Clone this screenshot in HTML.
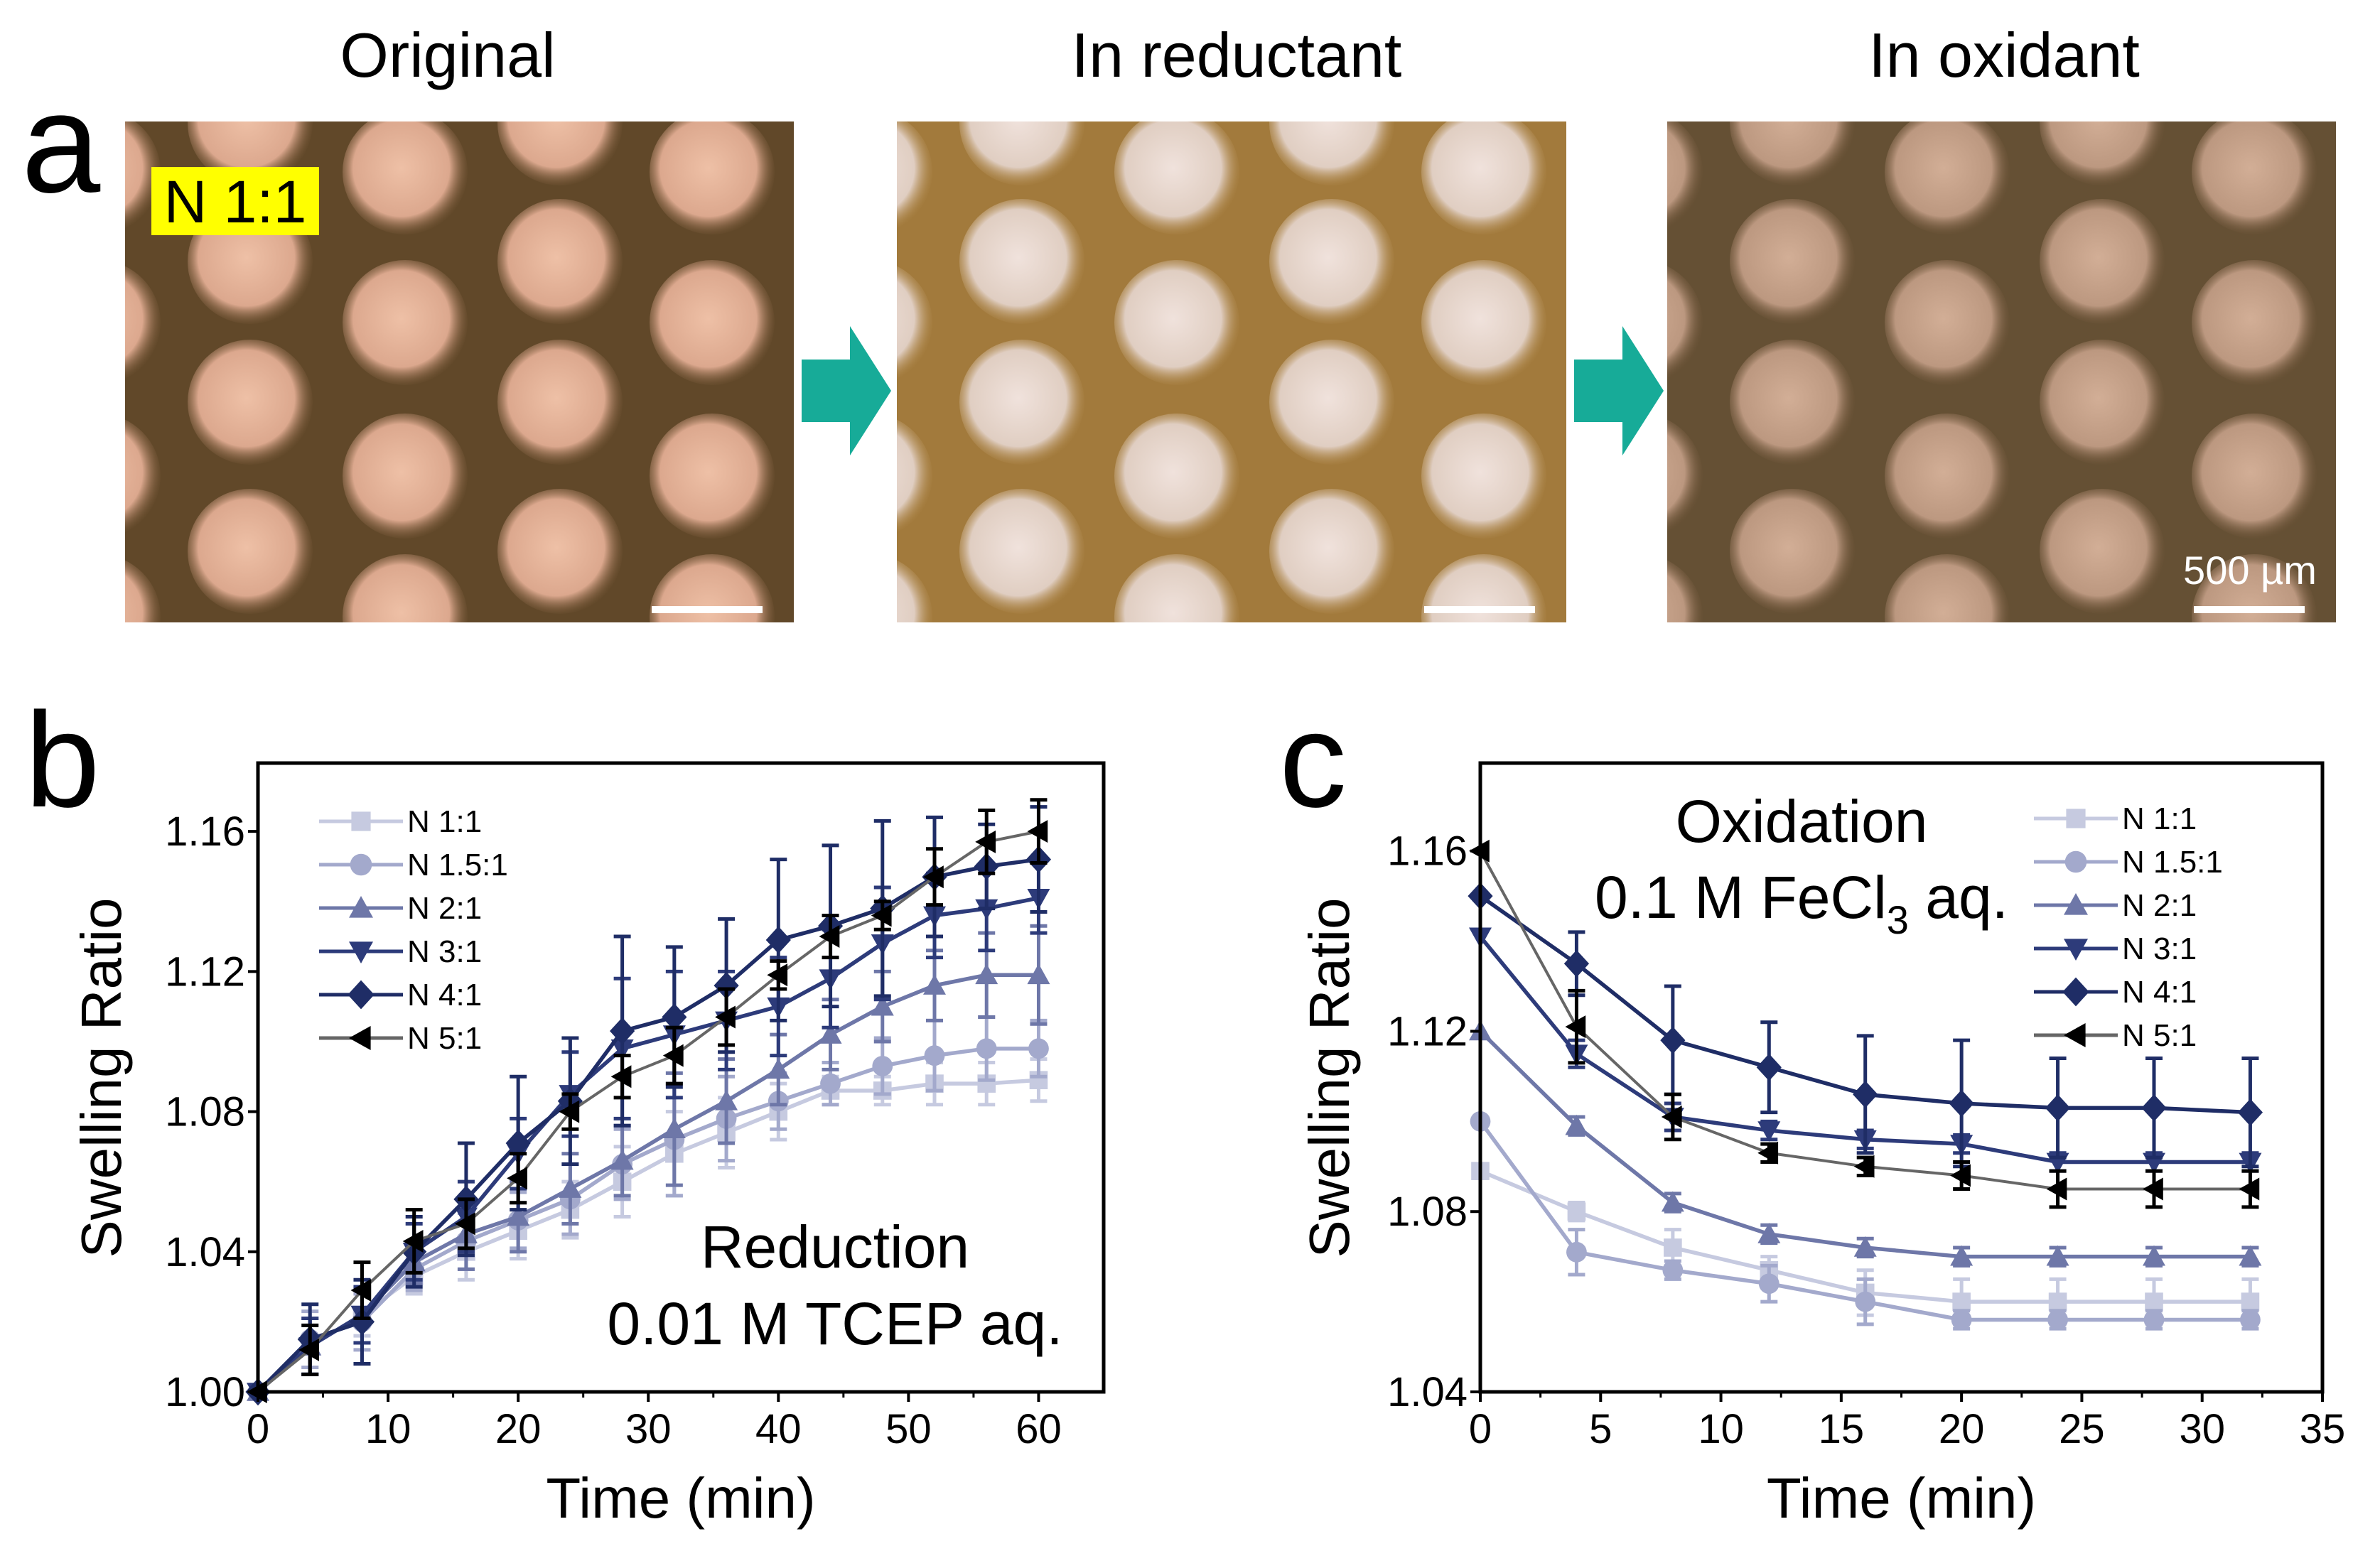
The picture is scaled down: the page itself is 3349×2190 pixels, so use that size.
<!DOCTYPE html>
<html><head><meta charset="utf-8"><style>
html,body{margin:0;padding:0;background:#fff;}
svg{display:block;font-family:"Liberation Sans",Arial,sans-serif;}
</style></head><body>
<svg id="fig" width="3349" height="2190" viewBox="0 0 3349 2190" xmlns="http://www.w3.org/2000/svg">
<defs>
<radialGradient id="c1" cx="0.47" cy="0.47" r="0.55"><stop offset="0" stop-color="#eec0a6"/><stop offset="0.7" stop-color="#dca88e"/><stop offset="1" stop-color="#7a5a3a" stop-opacity="0"/></radialGradient>
<radialGradient id="c2" cx="0.47" cy="0.47" r="0.55"><stop offset="0" stop-color="#f0e2dc"/><stop offset="0.7" stop-color="#e0cec2"/><stop offset="1" stop-color="#b08848" stop-opacity="0"/></radialGradient>
<radialGradient id="c3" cx="0.47" cy="0.47" r="0.55"><stop offset="0" stop-color="#d2ae96"/><stop offset="0.7" stop-color="#bc9880"/><stop offset="1" stop-color="#6a5034" stop-opacity="0"/></radialGradient>
</defs>
<g id="panelA"></g>
<g id="panelB"></g>
<g id="panelC"></g>
</svg>
<script>
// ---- Panel b data (reduction) ----
const timesB = [0,4,8,12,16,20,24,28,32,36,40,44,48,52,56,60];
const b11  = [1.000,1.013,1.022,1.033,1.040,1.046,1.052,1.060,1.068,1.074,1.080,1.086,1.086,1.088,1.088,1.089];
const b151 = [1.000,1.015,1.020,1.035,1.043,1.049,1.055,1.065,1.072,1.078,1.083,1.088,1.093,1.096,1.098,1.098];
const b21  = [1.000,1.013,1.022,1.037,1.045,1.050,1.058,1.066,1.075,1.083,1.092,1.102,1.110,1.116,1.119,1.119];
const b31  = [1.000,1.013,1.022,1.040,1.050,1.068,1.085,1.098,1.102,1.106,1.110,1.118,1.128,1.136,1.138,1.141];
const b41  = [1.000,1.015,1.020,1.040,1.055,1.071,1.083,1.103,1.107,1.116,1.129,1.133,1.138,1.147,1.150,1.152];
const b51  = [1.000,1.012,1.029,1.043,1.048,1.061,1.080,1.090,1.096,1.107,1.119,1.130,1.136,1.147,1.157,1.160];
const eB11  = [0,0.006,0.006,0.005,0.008,0.008,0.008,0.010,0.012,0.010,0.008,0.004,0.004,0.006,0.006,0.006];
const eB151 = [0,0.008,0.008,0.006,0.008,0.008,0.010,0.010,0.016,0.012,0.008,0.006,0.008,0.010,0.009,0.008];
const eB21  = [0,0.008,0.008,0.006,0.010,0.010,0.010,0.010,0.016,0.012,0.010,0.010,0.010,0.010,0.012,0.014];
const eB31  = [0,0.008,0.008,0.008,0.010,0.010,0.012,0.020,0.018,0.014,0.014,0.014,0.016,0.012,0.012,0.010];
const eB41  = [0,0.010,0.012,0.010,0.016,0.019,0.018,0.027,0.020,0.019,0.023,0.023,0.025,0.017,0.012,0.015];
const eB51  = [0,0.007,0.008,0.009,0.007,0.007,0.005,0.006,0.008,0.008,0.004,0.006,0.004,0.008,0.009,0.009];
const xTicksB = [0,10,20,30,40,50,60];
const yTicksB = [1.00,1.04,1.08,1.12,1.16];
// ---- Panel c data (oxidation) ----
const timesC = [0,4,8,12,16,20,24,28,32];
const c11  = [1.089,1.080,1.072,1.067,1.062,1.060,1.060,1.060,1.060];
const c151 = [1.100,1.071,1.067,1.064,1.060,1.056,1.056,1.056,1.056];
const c21  = [1.120,1.099,1.082,1.075,1.072,1.070,1.070,1.070,1.070];
const c31  = [1.141,1.115,1.101,1.098,1.096,1.095,1.091,1.091,1.091];
const c41  = [1.150,1.135,1.118,1.112,1.106,1.104,1.103,1.103,1.102];
const c51  = [1.160,1.121,1.101,1.093,1.090,1.088,1.085,1.085,1.085];
const eC11  = [0,0.002,0.004,0.003,0.005,0.005,0.005,0.005,0.005];
const eC151 = [0,0.005,0.002,0.004,0.005,0.002,0.002,0.002,0.002];
const eC21  = [0,0.002,0.002,0.002,0.002,0.002,0.002,0.002,0.002];
const eC31  = [0,0.003,0.003,0.002,0.002,0.002,0.002,0.002,0.002];
const eC41  = [0,0.007,0.012,0.010,0.013,0.014,0.011,0.011,0.012];
const eC51  = [0,0.008,0.005,0.002,0.002,0.003,0.004,0.004,0.004];
const xTicksC = [0,5,10,15,20,25,30,35];
const yTicksC = [1.04,1.08,1.12,1.16];
const seriesNames = ["N 1:1","N 1.5:1","N 2:1","N 3:1","N 4:1","N 5:1"];

const NS="http://www.w3.org/2000/svg";
function mk(parent,tag,attrs,text){const e=document.createElementNS(NS,tag);for(const k in attrs)e.setAttribute(k,attrs[k]);if(text!==undefined)e.textContent=text;parent.appendChild(e);return e;}

// ---------- Panel a ----------
const A=document.getElementById('panelA');
const lblA=mk(A,'text',{x:30,y:270,'font-size':200},'a');


const photos=[{x:176,w:941,bg:'#614829',g:'c1',title:'Original',tx:630,name:'photo-original'},
{x:1262,w:942,bg:'#a27a3c',g:'c2',title:'In reductant',tx:1740,name:'photo-in-reductant'},
{x:2346,w:941,bg:'#655034',g:'c3',title:'In oxidant',tx:2820,name:'photo-in-oxidant'}];
const colsA=[-38,176,394,612,826];
photos.forEach((p,i)=>{
  const g=mk(A,'g',{});
  
  
  const t=mk(A,'text',{x:p.tx,y:108,'font-size':88,'text-anchor':'middle'},p.title);
  
  
  const cp=mk(g,'clipPath',{id:'clip'+i});mk(cp,'rect',{x:p.x,y:171,width:p.w,height:705});
  const inner=mk(g,'g',{'clip-path':'url(#clip'+i+')'});
  mk(inner,'rect',{x:p.x,y:171,width:p.w,height:705,fill:p.bg});
  colsA.forEach((cx,ci)=>{
    const ys=(ci%2===0)?[71,283,499,697]:[2,197,395,605,810];
    ys.forEach(cy=>{mk(inner,'ellipse',{cx:p.x+cx,cy:171+cy,rx:88,ry:88,fill:'url(#'+p.g+')'});});
  });
  const sb=mk(g,'rect',{x:p.x+p.w-200,y:853,width:156,height:10,fill:'#fff'});
  
  
});
const yl=mk(A,'rect',{x:213,y:235,width:236,height:96,fill:'#ffff00'});


mk(A,'text',{x:331,y:313,'font-size':84,'text-anchor':'middle'},'N 1:1');
const sbt=mk(A,'text',{x:3166,y:822,'font-size':56,'text-anchor':'middle',fill:'#fff'},'500 µm');


[1128,2215].forEach((ax,i)=>{
  const ar=mk(A,'polygon',{points:`${ax},506 ${ax+68},506 ${ax+68},459 ${ax+126},550 ${ax+68},641 ${ax+68},594 ${ax},594`,fill:'#17ab98'});
  
  
});

// ---------- chart helper ----------
const colors=['#c6cae0','#a3a9cc','#6e77a8','#2d3b7a','#1f2d66','#000000'];
const lineColors=['#c6cae0','#a3a9cc','#6e77a8','#2d3b7a','#1f2d66','#666666'];
const shapes=['square','circle','up','down','diamond','left'];
function marker(g,shape,x,y,s,fill){
  let el;
  if(shape==='square') el=mk(g,'rect',{x:x-s*0.8,y:y-s*0.8,width:s*1.6,height:s*1.6,fill});
  else if(shape==='circle') el=mk(g,'circle',{cx:x,cy:y,r:s*0.9,fill});
  else if(shape==='up') el=mk(g,'polygon',{points:`${x},${y-s} ${x+s},${y+s*0.8} ${x-s},${y+s*0.8}`,fill});
  else if(shape==='down') el=mk(g,'polygon',{points:`${x},${y+s} ${x+s},${y-s*0.8} ${x-s},${y-s*0.8}`,fill});
  else if(shape==='diamond') el=mk(g,'polygon',{points:`${x},${y-s*1.2} ${x+s*1.1},${y} ${x},${y+s*1.2} ${x-s*1.1},${y}`,fill});
  else el=mk(g,'polygon',{points:`${x-s},${y} ${x+s*0.8},${y-s} ${x+s*0.8},${y+s}`,fill});
  return el;
}
function chart(root,cfg){
  const sx=v=>cfg.L+(v-cfg.x0)/(cfg.x1-cfg.x0)*(cfg.R-cfg.L);
  const sy=v=>cfg.B-(v-cfg.y0)/(cfg.y1-cfg.y0)*(cfg.B-cfg.T);
  const lab=mk(root,'text',{x:cfg.lx,y:cfg.ly,'font-size':190},cfg.label);
  
  
  cfg.series.forEach((s,si)=>{
    const g=mk(root,'g',{});
    
    
    const pts=cfg.times.map((t,i)=>sx(t)+','+sy(s[i])).join(' ');
    mk(g,'polyline',{points:pts,fill:'none',stroke:lineColors[si],'stroke-width':si===5?4:5.5});
    cfg.times.forEach((t,i)=>{
      const e=cfg.errs[si][i];
      if(e>0){
        const x=sx(t),ya=sy(s[i]+e),yb=sy(s[i]-e);
        mk(g,'line',{x1:x,x2:x,y1:ya,y2:yb,stroke:colors[si],'stroke-width':5});
        mk(g,'line',{x1:x-12,x2:x+12,y1:ya,y2:ya,stroke:colors[si],'stroke-width':5});
        mk(g,'line',{x1:x-12,x2:x+12,y1:yb,y2:yb,stroke:colors[si],'stroke-width':5});
      }
      const m=marker(g,shapes[si],sx(t),sy(s[i]),16,colors[si]);
      
      
    });
  });
  const frame=mk(root,'rect',{x:cfg.L,y:cfg.T,width:cfg.R-cfg.L,height:cfg.B-cfg.T,fill:'none',stroke:'#000','stroke-width':5});
  
  
  const xa=mk(root,'g',{});
  
  
  cfg.xt.forEach(v=>{
    mk(xa,'line',{x1:sx(v),x2:sx(v),y1:cfg.B,y2:cfg.B+14,stroke:'#000','stroke-width':4});
    mk(xa,'text',{x:sx(v),y:cfg.B+72,'font-size':58,'text-anchor':'middle'},String(v));
  });
  for(let i=0;i<cfg.xt.length-1;i++){const m=(cfg.xt[i]+cfg.xt[i+1])/2;mk(xa,'line',{x1:sx(m),x2:sx(m),y1:cfg.B,y2:cfg.B+8,stroke:'#000','stroke-width':3});}
  const ya=mk(root,'g',{});
  
  
  cfg.yt.forEach(v=>{
    mk(ya,'line',{x1:cfg.L-14,x2:cfg.L,y1:sy(v),y2:sy(v),stroke:'#000','stroke-width':4});
    mk(ya,'text',{x:cfg.L-18,y:sy(v)+20,'font-size':58,'text-anchor':'end'},v.toFixed(2));
  });
  const xt=mk(root,'text',{x:(cfg.L+cfg.R)/2,y:2136,'font-size':80,'text-anchor':'middle'},'Time (min)');
  
  
  const ytl=mk(root,'text',{x:0,y:0,'font-size':80,'text-anchor':'middle',transform:`translate(${cfg.ytx},1517) rotate(-90)`},'Swelling Ratio');
  
  
  const lg=mk(root,'g',{});
  
  
  seriesNames.forEach((n,i)=>{
    const y=cfg.legY+i*61;
    const e=mk(lg,'g',{});
    
    
    mk(e,'line',{x1:cfg.legX,x2:cfg.legX+118,y1:y,y2:y,stroke:lineColors[i],'stroke-width':5});
    marker(e,shapes[i],cfg.legX+59,y,17,colors[i]);
    mk(e,'text',{x:cfg.legX+124,y:y+15,'font-size':44},n);
  });
}
chart(document.getElementById('panelB'),{L:363,R:1553,T:1074,B:1959,x0:0,x1:65,y0:1.00,y1:1.16+0.0195,
  times:timesB,series:[b11,b151,b21,b31,b41,b51],errs:[eB11,eB151,eB21,eB31,eB41,eB51],
  xt:xTicksB,yt:yTicksB,label:'b',lx:35,ly:1135,ytx:170,legX:449,legY:1156});
chart(document.getElementById('panelC'),{L:2083,R:3268,T:1074,B:1959,x0:0,x1:35,y0:1.04,y1:1.16+0.0195,
  times:timesC,series:[c11,c151,c21,c31,c41,c51],errs:[eC11,eC151,eC21,eC31,eC41,eC51],
  xt:xTicksC,yt:yTicksC,label:'c',lx:1800,ly:1135,ytx:1898,legX:2862,legY:1152});
const B=document.getElementById('panelB');
const r1=mk(B,'text',{x:1175,y:1784,'font-size':84,'text-anchor':'middle'},'Reduction');


mk(B,'text',{x:1175,y:1892,'font-size':84,'text-anchor':'middle'},'0.01 M TCEP aq.');
const C=document.getElementById('panelC');
const o1=mk(C,'text',{x:2535,y:1185,'font-size':84,'text-anchor':'middle'},'Oxidation');


const o2=mk(C,'text',{x:2535,y:1292,'font-size':84,'text-anchor':'middle'});
mk(o2,'tspan',{},'0.1 M FeCl');mk(o2,'tspan',{'font-size':56,dy:22},'3');mk(o2,'tspan',{dy:-22},' aq.');
</script>
</body></html>
